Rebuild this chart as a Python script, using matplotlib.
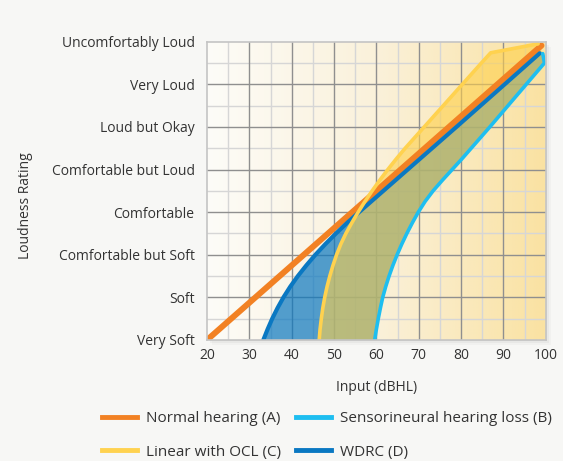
import numpy as np
import matplotlib
matplotlib.use('Agg')
import matplotlib.pyplot as plt
from matplotlib.colors import LinearSegmentedColormap
from matplotlib.patches import Rectangle

plt.rcParams['font.family'] = ['Open Sans', 'DejaVu Sans']

# loudness categories (bottom to top)
ratings = ["Very Soft", "Soft", "Comfortable but Soft", "Comfortable",
           "Comfortable but Loud", "Loud but Okay", "Very Loud",
           "Uncomfortably Loud"]
x_ticks = [20, 30, 40, 50, 60, 70, 80, 90, 100]

# (A) normal hearing
normal_x = [20, 99]
normal_y = [0, 6.91]

# (B) sensorineural hearing loss
snhl_x = [59.6, 60.0, 60.45, 60.95, 61.5, 62.2, 63.0, 63.9, 64.9, 66.0, 67.2,
          68.5, 69.9, 71.5, 73.4, 75.6, 77.9, 80.2, 82.4, 86.8, 91.1, 95.4,
          99.7, 99.3]
snhl_y = [0.0, 0.25, 0.5, 0.75, 1.0, 1.25, 1.5, 1.75, 2.0, 2.25, 2.5,
          2.75, 3.0, 3.25, 3.5, 3.75, 4.0, 4.25, 4.5, 5.0, 5.5, 6.0,
          6.5, 6.72]

# (C) linear with OCL
ocl_x = [46.5, 46.7, 47.0, 47.35, 47.8, 48.35, 49.0, 49.75, 50.6, 51.6, 52.8,
         54.2, 55.7, 57.3, 59.0, 60.8, 62.7, 64.7, 66.8, 71.3, 75.8, 80.3,
         84.8, 87.0, 98.2]
ocl_y = [0.0, 0.25, 0.5, 0.75, 1.0, 1.25, 1.5, 1.75, 2.0, 2.25, 2.5,
         2.75, 3.0, 3.25, 3.5, 3.75, 4.0, 4.25, 4.5, 5.0, 5.5, 6.0,
         6.5, 6.74, 6.95]

# (D) WDRC
wdrc_x = [33.3, 34.3, 35.4, 36.65, 38.05, 39.65, 41.45, 43.45, 45.6, 47.95,
          50.45, 53.1, 55.9, 67.4, 78.9, 90.3, 98.6]
wdrc_y = [0.0, 0.25, 0.5, 0.75, 1.0, 1.25, 1.5, 1.75, 2.0, 2.25,
          2.5, 2.75, 3.0, 4.0, 5.0, 6.0, 6.73]

fig = plt.figure(figsize=(5.63, 4.61), dpi=100, facecolor='#F7F7F5')
ax = fig.add_axes([0.3677, 0.2625, 0.6016, 0.647])

# soft drop shadow behind the plot area
pos = ax.get_position()
for dx, a in [(5, 0.05), (3, 0.08), (1.5, 0.12)]:
    fig.patches.append(Rectangle((pos.x0 + dx / 563, pos.y0 - dx / 461),
                                 pos.width, pos.height, transform=fig.transFigure,
                                 facecolor='#888888', alpha=a, edgecolor='none',
                                 zorder=-1))

bg = LinearSegmentedColormap.from_list('bg', ['#FDFCF8', '#FAF1DA', '#FAE2A2'])
ax.imshow(np.linspace(0, 1, 256)[None, :], cmap=bg, extent=[20, 100, 0, 7],
          aspect='auto', zorder=0, interpolation='bilinear')

ax.set_xlim(20, 100)
ax.set_ylim(0, 7)

# grid
for v in np.arange(25, 100, 10):
    ax.axvline(v, color='#D6D6D6', lw=1, zorder=1)
for v in np.arange(30, 100, 10):
    ax.axvline(v, color='#8F8F8F', lw=1, zorder=1.1)
for v in np.arange(0.5, 7, 1):
    ax.axhline(v, color='#D6D6D6', lw=1, zorder=1)
for v in np.arange(1, 7, 1):
    ax.axhline(v, color='#8F8F8F', lw=1, zorder=1.1)

# fills
ax.fill(np.concatenate([wdrc_x, snhl_x[::-1]]), np.concatenate([wdrc_y, snhl_y[::-1]]),
        color='#0A77C0', alpha=0.7, lw=0, zorder=2)
ax.fill(np.concatenate([ocl_x, snhl_x[::-1]]), np.concatenate([ocl_y, snhl_y[::-1]]),
        color='#FFD04A', alpha=0.6, lw=0, zorder=3)

ax.plot(normal_x, normal_y, color='#F28123', lw=4.3, solid_capstyle='round', zorder=5)
ax.plot(wdrc_x, wdrc_y, color='#0A78C2', lw=3, solid_capstyle='round', zorder=6)
ax.plot(snhl_x, snhl_y, color='#1EBEF0', lw=2.6, solid_capstyle='round', zorder=6)
ax.plot(ocl_x, ocl_y, color='#FFD24F', lw=2.6, solid_capstyle='round', zorder=7)

ax.set_xticks(x_ticks)
ax.set_yticks(range(len(ratings)))
ax.set_yticklabels(ratings)
ax.tick_params(length=0, labelsize=10, colors='#333333')
ax.tick_params(axis='y', pad=9)
ax.tick_params(axis='x', pad=6)
for s in ax.spines.values():
    s.set_color('#C4C4C4')
    s.set_linewidth(1.2)
    s.set_zorder(8)

ax.set_xlabel('Input (dBHL)', fontsize=10, color='#333333', labelpad=12)
fig.text(0.045, 0.555, 'Loudness Rating', rotation=90, fontsize=10,
         color='#333333', ha='center', va='center')

handles = [plt.Line2D([], [], color='#F28123', lw=3.5),
           plt.Line2D([], [], color='#FFD24F', lw=3.5),
           plt.Line2D([], [], color='#1EBEF0', lw=3.5),
           plt.Line2D([], [], color='#0A78C2', lw=3.5)]
labels = ['Normal hearing (A)', 'Linear with OCL (C)',
          'Sensorineural hearing loss (B)', 'WDRC (D)']
leg = fig.legend(handles, labels, ncol=2, frameon=False, fontsize=11,
                 loc='lower left', bbox_to_anchor=(0.156, -0.027),
                 handlelength=2.3, handletextpad=0.6, columnspacing=1.0,
                 labelspacing=1.2)
for t in leg.get_texts():
    t.set_color('#333333')

fig.savefig('out.png', dpi=100, facecolor=fig.get_facecolor())
